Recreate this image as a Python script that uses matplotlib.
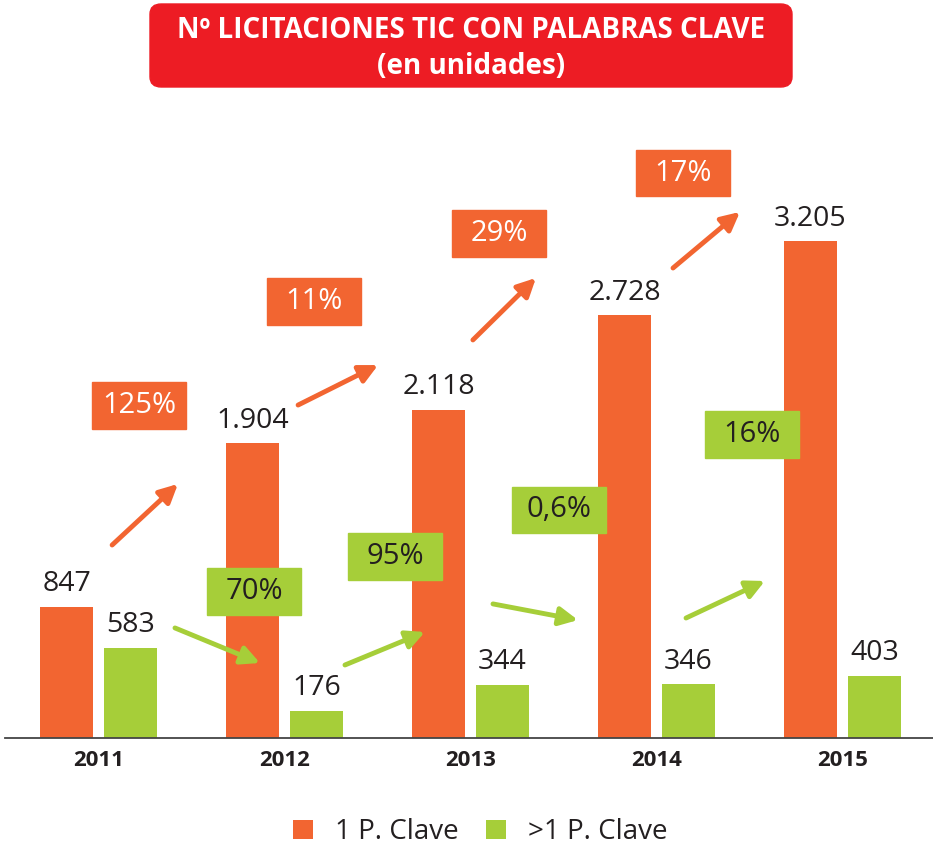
import matplotlib.pyplot as plt
from matplotlib.patches import Rectangle, FancyBboxPatch
import numpy as np

plt.rcParams['font.family'] = ['Open Sans', 'DejaVu Sans']

years = ['2011', '2012', '2013', '2014', '2015']
una_clave = [847, 1904, 2118, 2728, 3205]
mas_clave = [583, 176, 344, 346, 403]
una_labels = ['847', '1.904', '2.118', '2.728', '3.205']
mas_labels = ['583', '176', '344', '346', '403']

# variaciones interanuales
var_una = ['125%', '11%', '29%', '17%']
var_mas = ['70%', '95%', '0,6%', '16%']
# posiciones de cajas y flechas (coordenadas de datos)
box_una = [(0.218, 2142), (1.159, 2819), (2.153, 3252), (3.142, 3645)]
box_mas = [(0.836, 948), (1.594, 1174), (2.476, 1471), (3.513, 1955)]
arr_una = [((0.073, 1245), (0.427, 1639)), ((1.073, 2148), (1.503, 2406)),
           ((2.013, 2568), (2.352, 2968)), ((3.089, 3032), (3.449, 3394))]
arr_mas = [((0.411, 710), (0.868, 484)), ((1.325, 471), (1.755, 684)),
           ((2.121, 865), (2.578, 761)), ((3.159, 774), (3.583, 1013))]

naranja = '#f26531'
verde = '#a6ce39'
oscuro = '#231f20'

fig = plt.figure(figsize=(9.33, 8.49), dpi=100)
ax = fig.add_axes([5 / 933, 111 / 849, 928 / 933, 638 / 849])

x = np.arange(len(years))
w = 0.285
off = 0.172
b1 = ax.bar(x - off, una_clave, w, color=naranja, label='1 P. Clave')
b2 = ax.bar(x + off, mas_clave, w, color=verde, label='>1 P. Clave')

for xi, v, t in zip(x - off, una_clave, una_labels):
    ax.annotate(t, (xi, v), xytext=(0, 6), textcoords='offset points',
                ha='center', va='bottom', fontsize=20.5, color=oscuro)
for xi, v, t in zip(x + off, mas_clave, mas_labels):
    ax.annotate(t, (xi, v), xytext=(0, 6), textcoords='offset points',
                ha='center', va='bottom', fontsize=20.5, color=oscuro)

bw, bh = 0.505, 303
for (cx, cy), t in zip(box_una, var_una):
    ax.add_patch(Rectangle((cx - bw / 2, cy - bh / 2), bw, bh, color=naranja, zorder=3))
    ax.text(cx, cy, t, ha='center', va='center', fontsize=21, color='white', zorder=4)
for (cx, cy), t in zip(box_mas, var_mas):
    ax.add_patch(Rectangle((cx - bw / 2, cy - bh / 2), bw, bh, color=verde, zorder=3))
    ax.text(cx, cy, t, ha='center', va='center', fontsize=21, color=oscuro, zorder=4)

for arrs, col in [(arr_una, naranja), (arr_mas, verde)]:
    for p0, p1 in arrs:
        ax.annotate('', xy=p1, xytext=p0,
                    arrowprops=dict(arrowstyle='-|>,head_length=1.1,head_width=0.55',
                                    lw=3.5, color=col, shrinkA=0, shrinkB=0),
                    zorder=3)

ax.set_xlim(-0.503, 4.487)
ax.set_ylim(0, 4116)
ax.set_xticks(x)
ax.set_xticklabels(years, fontsize=16, fontweight='bold', color=oscuro)
ax.tick_params(length=0, pad=9)
ax.set_yticks([])
for s in ['top', 'left', 'right']:
    ax.spines[s].set_visible(False)
ax.spines['bottom'].set_color('#444444')
ax.spines['bottom'].set_linewidth(1.3)

# titulo en caja roja
fig.patches.append(FancyBboxPatch((150 / 933, 1 - 87 / 849), 642 / 933, 83 / 849,
                                  boxstyle='round,pad=0,rounding_size=0.012',
                                  transform=fig.transFigure, color='#ed1c24'))
fig.text(471 / 933, 1 - 30 / 849, 'Nº LICITACIONES TIC CON PALABRAS CLAVE',
         ha='center', va='center', fontsize=20, fontweight='bold', color='white')
fig.text(471 / 933, 1 - 66 / 849, '(en unidades)',
         ha='center', va='center', fontsize=20, fontweight='bold', color='white')

fig.legend(handles=[b1, b2], loc='center', bbox_to_anchor=(0.515, 1 - 832 / 849),
           ncol=2, frameon=False, fontsize=20, handlelength=0.7, handleheight=0.7,
           handletextpad=0.8, columnspacing=1.0, labelcolor=oscuro)

fig.savefig('out.png', dpi=100)
